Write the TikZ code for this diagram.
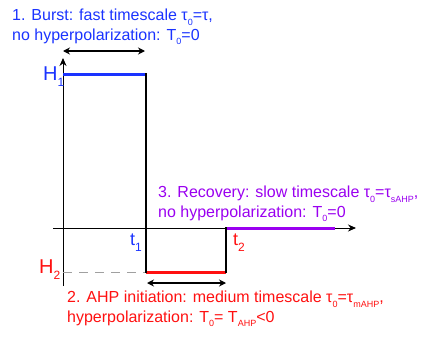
\documentclass[tikz,border=0pt]{standalone}
\usepackage{fontspec}
\setmainfont{Liberation Sans}
\usepackage{tikz}
\usetikzlibrary{arrows.meta,positioning}
\usepackage{xcolor}
\definecolor{burstblue}{HTML}{1A33FF}
\definecolor{ahpred}{HTML}{FF1010}
\definecolor{recpurple}{HTML}{9A00F0}
\definecolor{dashgray}{HTML}{A0A0A0}
\newcommand{\lowsub}[1]{\raisebox{-4.5pt}{\fontsize{9}{9}\selectfont #1}}
\newcommand{\labsub}[1]{\raisebox{-6.5pt}{\fontsize{12}{12}\selectfont #1}}

\begin{document}
\begin{tikzpicture}[
  x=1pt, y=-1pt,
  font=\fontsize{16}{19.5}\selectfont,
  >=Stealth,
  axis/.style={line width=0.9pt, ->, >={Stealth[length=8pt,width=7pt]}},
  span/.style={line width=1.3pt, <->, >={Stealth[length=7pt,width=7pt]}},
  jump/.style={line width=2pt, line cap=rect},
  level/.style={line width=3pt},
  caption/.style={anchor=base west, inner sep=0pt, align=left},
  mark label/.style={anchor=base west, inner sep=0pt}
]
  \useasboundingbox (0,0) rectangle (426,340);

  % axes
  \coordinate (yfoot) at (63,286);
  \coordinate (ytop) at (63,58);
  \coordinate (xfoot) at (53,228);
  \coordinate (xtop) at (356,228);
  \draw[axis] (yfoot) -- (ytop);
  \draw[axis] (xfoot) -- (xtop);

  % corners of the trace
  \coordinate (h1a) at (63,74);
  \coordinate (h1b) at (146,74);
  \coordinate (h2a) at (146,272);
  \coordinate (h2b) at (226,272);
  \coordinate (zeroa) at (226,228);
  \coordinate (zerob) at (335,228);
  \coordinate (h2axis) at (63,272);

  % dashed guide to H2
  \draw[dashgray, line width=1pt, dash pattern=on 9pt off 7pt] (h2axis) -- (h2a);

  % the three phases
  \draw[level, burstblue] (h1a) -- (h1b);
  \draw[level, ahpred] (h2a) -- (h2b);
  \draw[level, recpurple] (zeroa) -- (zerob);
  \draw[jump] (h1b) -- (h2a);
  \draw[jump] (h2b) -- (zeroa);

  % duration arrows
  \coordinate (spana) at (63,51);
  \coordinate (spanb) at (145,51);
  \coordinate (spanc) at (147,283);
  \coordinate (spand) at (226,283);
  \draw[span] (spana) -- (spanb);
  \draw[span] (spanc) -- (spand);

  % level and time labels
  \node[mark label, burstblue, font=\fontsize{20}{20}\selectfont] (labH1) at (43,80) {H\labsub{1}};
  \node[mark label, ahpred, font=\fontsize{20}{20}\selectfont] (labH2) at (39,273) {H\labsub{2}};
  \node[mark label, burstblue, font=\fontsize{18}{18}\selectfont] (labt1) at (130,245) {t\labsub{1}};
  \node[mark label, ahpred, font=\fontsize{18}{18}\selectfont] (labt2) at (233,245) {t\labsub{2}};

  % phase descriptions
  \node[caption, burstblue] (phaseone) at (12,40) {1. Burst: fast timescale τ\lowsub{0}=τ,\\no hyperpolarization: T\lowsub{0}=0};
  \node[caption, recpurple] (phasethree) at (158,217) {3. Recovery: slow timescale τ\lowsub{0}=τ\lowsub{sAHP},\\no hyperpolarization: T\lowsub{0}=0};
  \node[caption, ahpred] (phasetwo) at (67,322) {2. AHP initiation: medium timescale τ\lowsub{0}=τ\lowsub{mAHP},\\hyperpolarization: T\lowsub{0}= T\lowsub{AHP}<0};

\end{tikzpicture}
\end{document}
